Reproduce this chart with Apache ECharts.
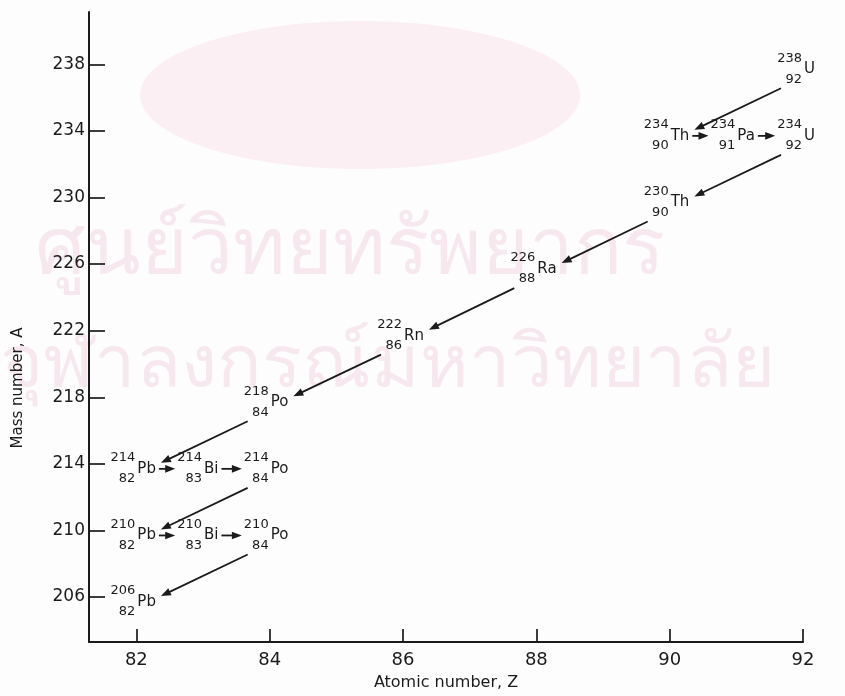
<!DOCTYPE html>
<html><head><meta charset="utf-8">
<script src="https://cdn.jsdelivr.net/npm/echarts@6/dist/echarts.min.js"></script>
<style>html,body{margin:0;padding:0;background:#fdfdfd}#c{width:845px;height:696px}</style>
</head><body><div id="c"></div>
<script>
// ---- data: uranium-238 decay series ----
const nuclideZ = [92, 90, 91, 92, 90, 88, 86, 84, 82, 83, 84, 82, 83, 84, 82];
const nuclideA = [238, 234, 234, 234, 230, 226, 222, 218, 214, 214, 214, 210, 210, 210, 206];
const nuclideSymbols = ['U', 'Th', 'Pa', 'U', 'Th', 'Ra', 'Rn', 'Po', 'Pb', 'Bi', 'Po', 'Pb', 'Bi', 'Po', 'Pb'];
// decay k: nuclide decayFrom[k] -> nuclide decayTo[k]
const decayFrom = [0, 1, 2, 3, 4, 5, 6, 7, 8, 9, 10, 11, 12, 13];
const decayTo   = [1, 2, 3, 4, 5, 6, 7, 8, 9, 10, 11, 12, 13, 14];
const zTicks = [82, 84, 86, 88, 90, 92];
const aTicks = [206, 210, 214, 218, 222, 226, 230, 234, 238];
const xTitle = 'Atomic number, Z';
const yTitle = 'Mass number, A';
const watermarkLines = ['ศูนย์วิทยทรัพยากร', 'จุฬาลงกรณ์มหาวิทยาลัย'];

// ---- styles ----
const INK = '#1b1b1b';
const FAMILY = '"DejaVu Sans", sans-serif';
const NUM_FONT = '13px ' + FAMILY;
const SYM_FONT = '15px ' + FAMILY;
const mctx = document.createElement('canvas').getContext('2d');
function tw(t, font) { mctx.font = font; return mctx.measureText(t).width; }

const nuclideData = nuclideZ.map((z, i) => [z, nuclideA[i], i]);
const decayData = decayFrom.map((f, k) => [nuclideZ[f], nuclideA[f], nuclideZ[decayTo[k]], nuclideA[decayTo[k]], f, decayTo[k]]);

function renderNuclide(params, api) {
  const z = api.value(0), a = api.value(1), i = api.value(2);
  const p = api.coord([z, a]);
  return {
    type: 'group',
    children: [
      { type: 'text', x: p[0] - 1, y: p[1] - 6, style: { text: String(a), font: NUM_FONT, fill: INK, align: 'right', verticalAlign: 'middle' } },
      { type: 'text', x: p[0] - 1, y: p[1] + 15, style: { text: String(z), font: NUM_FONT, fill: INK, align: 'right', verticalAlign: 'middle' } },
      { type: 'text', x: p[0] + 1, y: p[1] + 5, style: { text: nuclideSymbols[i], font: SYM_FONT, fill: INK, align: 'left', verticalAlign: 'middle' } }
    ]
  };
}

function renderDecay(params, api) {
  const z0 = api.value(0), a0 = api.value(1), z1 = api.value(2), a1 = api.value(3);
  const fi = api.value(4), ti = api.value(5);
  const p = api.coord([z0, a0]);
  const d = api.coord([z1, a1]);
  let x1, y1, x2, y2;
  if (a1 !== a0) { // alpha decay: diagonal
    x1 = p[0] - 22; y1 = p[1] + 24;
    x2 = d[0] + 1 + tw(nuclideSymbols[ti], SYM_FONT) + 5; y2 = d[1] - 1;
  } else { // beta decay: horizontal
    x1 = p[0] + 1 + tw(nuclideSymbols[fi], SYM_FONT) + 3; y1 = p[1] + 5;
    x2 = d[0] - 1 - tw(String(a1), NUM_FONT) - 2; y2 = d[1] + 5;
  }
  const dx = x2 - x1, dy = y2 - y1, len = Math.hypot(dx, dy);
  const ux = dx / len, uy = dy / len;
  const hl = 10, hw = 3.8;
  const bx = x2 - ux * hl, by = y2 - uy * hl;
  return {
    type: 'group',
    children: [
      { type: 'line', shape: { x1: x1, y1: y1, x2: bx + ux * 2, y2: by + uy * 2 }, style: { stroke: INK, lineWidth: 1.8 } },
      { type: 'polygon', shape: { points: [[x2, y2], [bx - uy * hw, by + ux * hw], [bx + uy * hw, by - ux * hw]] }, style: { fill: INK } }
    ]
  };
}

const chart = echarts.init(document.getElementById('c'));
chart.setOption({
  backgroundColor: '#fdfdfd',
  animation: false,
  grid: { left: 89, right: 42, top: 12, bottom: 54 },
  xAxis: {
    type: 'value', min: 81.29, max: 92,
    name: xTitle, nameLocation: 'middle', nameGap: 33,
    nameTextStyle: { color: INK, fontFamily: FAMILY, fontSize: 16 },
    axisLine: { show: true, onZero: false, lineStyle: { color: INK, width: 2 } },
    axisTick: { show: true, inside: true, length: 13, customValues: zTicks, lineStyle: { color: INK, width: 1.7 } },
    axisLabel: { customValues: zTicks, color: INK, fontFamily: FAMILY, fontSize: 18, margin: 9 },
    splitLine: { show: false }
  },
  yAxis: {
    type: 'value', min: 203.3, max: 241.14,
    axisLine: { show: true, onZero: false, lineStyle: { color: INK, width: 2 } },
    axisTick: { show: true, inside: true, length: 16, customValues: aTicks, lineStyle: { color: INK, width: 1.7 } },
    axisLabel: { customValues: aTicks, color: INK, fontFamily: FAMILY, fontSize: 17, margin: 4 },
    splitLine: { show: false }
  },
  graphic: [
    { type: 'ellipse', z: -10, shape: { cx: 360, cy: 95, rx: 220, ry: 74 }, style: { fill: '#fbeff4' } },
    { type: 'text', z: -9, x: 35, y: 212, style: { text: watermarkLines[0], font: '80px sans-serif', fill: '#f6e8ee' } },
    { type: 'text', z: -9, x: 0, y: 330, style: { text: watermarkLines[1], font: '74px sans-serif', fill: '#f6e8ee' } },
    { type: 'text', z: 5, x: 18, y: 388, rotation: Math.PI / 2,
      style: { text: yTitle, font: '15px ' + FAMILY, fill: INK, align: 'center', verticalAlign: 'middle' } }
  ],
  series: [
    { type: 'custom', name: 'decays', coordinateSystem: 'cartesian2d', clip: false,
      encode: { x: [0, 2], y: [1, 3] }, data: decayData, renderItem: renderDecay, z: 3 },
    { type: 'custom', name: 'nuclides', coordinateSystem: 'cartesian2d', clip: false,
      encode: { x: 0, y: 1 }, data: nuclideData, renderItem: renderNuclide, z: 4 }
  ]
});
</script>
</body></html>
